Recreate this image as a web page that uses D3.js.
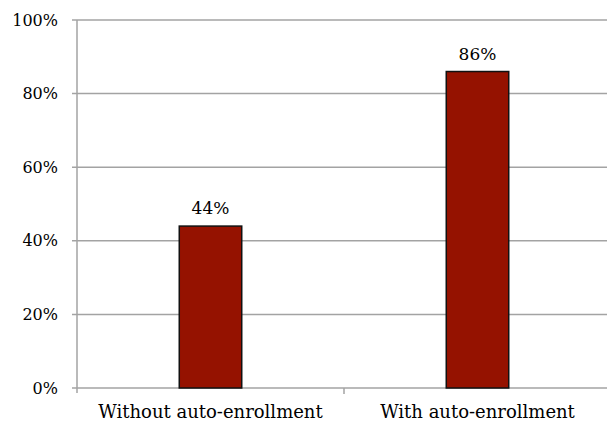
<!DOCTYPE html>
<html>
<head>
<meta charset="utf-8">
<script src="https://cdn.jsdelivr.net/npm/d3@7"></script>
<style>
  body { margin: 0; background: #fff; }
  text { font-family: "DejaVu Serif", "Liberation Serif", serif; fill: #000; }
</style>
</head>
<body>
<div id="chart"></div>
<script>
// chart data
var categories = ["Without auto-enrollment", "With auto-enrollment"];
var values = [0.44, 0.86];
var valueLabels = ["44%", "86%"];
var yTicks = [0, 0.2, 0.4, 0.6, 0.8, 1.0];

var width = 607, height = 425;
var margin = { top: 20, right: -4, bottom: 37, left: 77 };
var plotW = width - margin.left - margin.right,
  plotH = height - margin.top - margin.bottom;

var svg = d3.select("#chart")
  .append("svg")
  .attr("width", width)
  .attr("height", height)
  .append("g")
  .attr("transform", "translate(" + margin.left + "," + margin.top + ")");

var x = d3.scaleBand()
  .domain(categories)
  .range([0, plotW])
  .paddingInner(0)
  .paddingOuter(0);

var y = d3.scaleLinear()
  .domain([0, 1])
  .range([plotH, 0]);

// gridlines
svg.selectAll(".grid")
  .data(yTicks)
  .enter().append("line")
  .attr("x1", -5)
  .attr("x2", plotW)
  .attr("y1", function (d) { return y(d); })
  .attr("y2", function (d) { return y(d); })
  .attr("stroke", "#a3a3a3")
  .attr("stroke-width", 1.5);

// y axis line
svg.append("line")
  .attr("x1", 0).attr("x2", 0)
  .attr("y1", 0).attr("y2", plotH + 5)
  .attr("stroke", "#a3a3a3")
  .attr("stroke-width", 1.5);

// y tick labels
svg.selectAll(".ylab")
  .data(yTicks)
  .enter().append("text")
  .attr("x", -19)
  .attr("y", function (d) { return y(d); })
  .attr("dy", "0.35em")
  .attr("text-anchor", "end")
  .style("font-size", "16px")
  .text(d3.format(".0%"));

// category ticks (between bands)
svg.selectAll(".xtick")
  .data(categories.slice(1))
  .enter().append("line")
  .attr("x1", function (d) { return x(d); })
  .attr("x2", function (d) { return x(d); })
  .attr("y1", plotH)
  .attr("y2", plotH + 6)
  .attr("stroke", "#a3a3a3")
  .attr("stroke-width", 1.5);

// category labels
svg.selectAll(".xlab")
  .data(categories)
  .enter().append("text")
  .attr("x", function (d) { return x(d) + x.bandwidth() / 2; })
  .attr("y", plotH + 30)
  .attr("text-anchor", "middle")
  .style("font-size", "18px")
  .text(function (d) { return d; });

// bars
var barW = x.bandwidth() * 0.234;
svg.selectAll(".bar")
  .data(values)
  .enter().append("rect")
  .attr("x", function (d, i) { return x(categories[i]) + x.bandwidth() / 2 - barW / 2; })
  .attr("y", function (d) { return y(d); })
  .attr("width", barW)
  .attr("height", function (d) { return plotH - y(d); })
  .attr("fill", "#951200")
  .attr("stroke", "#111")
  .attr("stroke-width", 1.5);

// value labels
svg.selectAll(".vlab")
  .data(values)
  .enter().append("text")
  .attr("x", function (d, i) { return x(categories[i]) + x.bandwidth() / 2; })
  .attr("y", function (d) { return y(d) - 12; })
  .attr("text-anchor", "middle")
  .style("font-size", "17px")
  .text(function (d, i) { return valueLabels[i]; });
</script>
</body>
</html>
